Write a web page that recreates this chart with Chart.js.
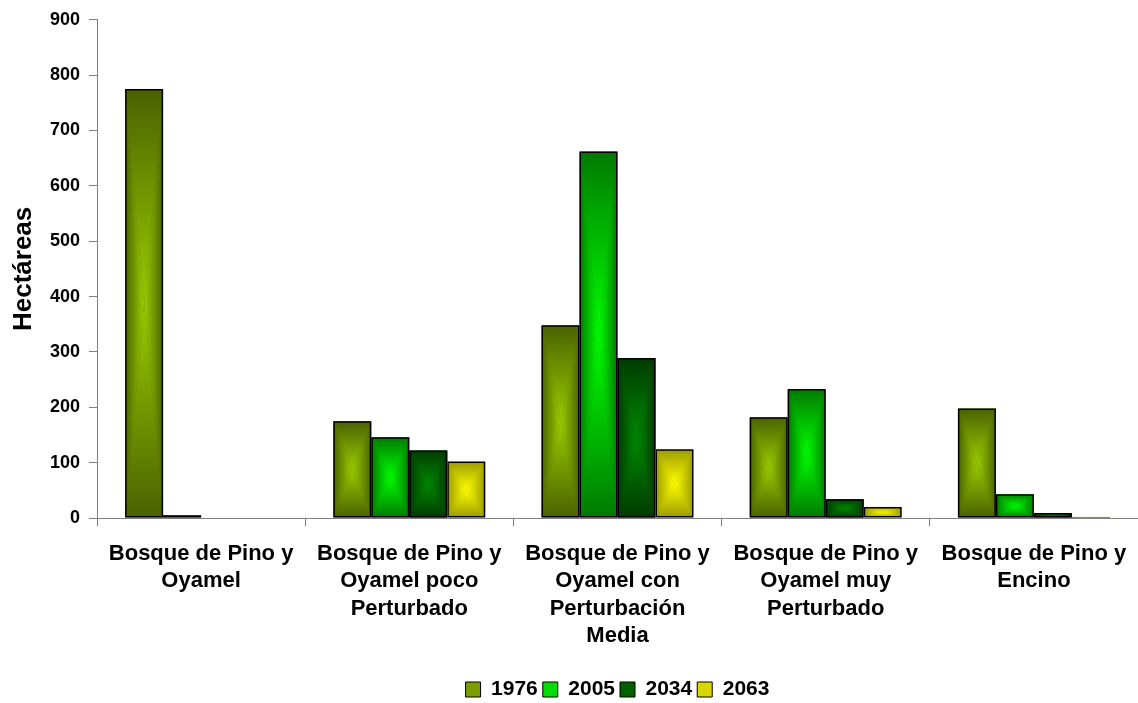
<!DOCTYPE html>
<html>
<head>
<meta charset="utf-8">
<script src="https://cdn.jsdelivr.net/npm/chart.js@4"></script>
<style>
  html, body { margin: 0; padding: 0; background: #fff; }
  #wrap { width: 1138px; height: 703px; }
</style>
</head>
<body>
<div id="wrap"><canvas id="chart" width="1138" height="703"></canvas></div>
<script>
// ---- DATA ----
const categories = [
  ['Bosque de Pino y', 'Oyamel'],
  ['Bosque de Pino y', 'Oyamel poco', 'Perturbado'],
  ['Bosque de Pino y', 'Oyamel con', 'Perturbación', 'Media'],
  ['Bosque de Pino y', 'Oyamel muy', 'Perturbado'],
  ['Bosque de Pino y', 'Encino']
];
const years = ['1976', '2005', '2034', '2063'];
const v1976 = [775, 175, 348, 182, 198];
const v2005 = [5, 146, 662, 233, 43];
const v2034 = [0, 122, 289, 34, 9];
const v2063 = [0, 102, 124, 20, 2];
const yTicks = [0, 100, 200, 300, 400, 500, 600, 700, 800, 900];

// ---- COLOURS ----
const edgeColors = ['#4a6200', '#007a00', '#003a00', '#9a9a00'];
const midColors  = ['#9acc00', '#00ff00', '#008a00', '#ffff00'];
const legendColors = ['#7c9e00', '#00dd00', '#006000', '#d8d800'];

const FONT = "'Liberation Sans', Arial, sans-serif";

// bars get a "from centre" rectangular gradient, drawn before the borders
const shadeBars = {
  id: 'shadeBars',
  beforeDatasetsDraw(chart) {
    const ctx = chart.ctx;
    chart.data.datasets.forEach((ds, i) => {
      const meta = chart.getDatasetMeta(i);
      if (meta.hidden) return;
      const edge = edgeColors[i], mid = midColors[i];
      meta.data.forEach(bar => {
        const { x, y, base, width } = bar.getProps(['x', 'y', 'base', 'width'], true);
        const l = x - width / 2, r = x + width / 2;
        const t = Math.min(y, base), b = Math.max(y, base);
        if (b - t < 0.5) return;
        const cx = x, cy = (t + b) / 2;
        ctx.save();
        ctx.fillStyle = edge;
        ctx.fillRect(l, t, r - l, b - t);
        const tri = (pts, x0, y0, x1, y1) => {
          const g = ctx.createLinearGradient(x0, y0, x1, y1);
          g.addColorStop(0, edge);
          g.addColorStop(1, mid);
          ctx.beginPath();
          ctx.moveTo(pts[0][0], pts[0][1]);
          ctx.lineTo(pts[1][0], pts[1][1]);
          ctx.lineTo(pts[2][0], pts[2][1]);
          ctx.closePath();
          ctx.fillStyle = g;
          ctx.fill();
        };
        tri([[l, t], [l, b], [cx, cy]], l, 0, cx, 0);
        tri([[r, t], [r, b], [cx, cy]], r, 0, cx, 0);
        tri([[l, t], [r, t], [cx, cy]], 0, t, 0, cy);
        tri([[l, b], [r, b], [cx, cy]], 0, b, 0, cy);
        ctx.restore();
      });
    });
  }
};

// legend is centred under the plot area and sits a bit lower
const shiftLegend = {
  id: 'shiftLegend',
  afterLayout(chart) {
    const lg = chart.legend;
    if (!lg) return;
    lg.left = chart.chartArea.left;
    lg.top += 7;
    lg.bottom += 7;
  }
};

function makeDataset(label, values) {
  return {
    label,
    data: values,
    backgroundColor: 'rgba(0,0,0,0)',
    borderColor: '#000',
    borderWidth: c => (c.raw ? 1.5 : 0),
    borderSkipped: false,
    categoryPercentage: 0.73,
    barPercentage: 1.0
  };
}

new Chart(document.getElementById('chart'), {
  type: 'bar',
  data: {
    labels: categories,
    datasets: [
      makeDataset(years[0], v1976),
      makeDataset(years[1], v2005),
      makeDataset(years[2], v2034),
      makeDataset(years[3], v2063)
    ]
  },
  plugins: [shadeBars, shiftLegend],
  options: {
    responsive: false,
    animation: false,
    layout: { padding: { top: 17, left: 0, right: 0, bottom: 0 } },
    plugins: {
      tooltip: { enabled: false },
      legend: {
        position: 'bottom',
        labels: {
          color: '#000',
          font: { family: FONT, size: 21, weight: 'bold', lineHeight: 1 },
          boxWidth: 15,
          boxHeight: 15,
          padding: 5,
          generateLabels(chart) {
            const items = Chart.defaults.plugins.legend.labels.generateLabels(chart);
            items.forEach((it, i) => {
              it.fillStyle = legendColors[i];
              it.strokeStyle = '#000';
              it.lineWidth = 1;
            });
            return items;
          }
        }
      }
    },
    scales: {
      x: {
        grid: { drawOnChartArea: false, offset: true, tickLength: 8, color: '#808080' },
        border: { color: '#808080', width: 1 },
        ticks: {
          color: '#000',
          maxRotation: 0,
          autoSkip: false,
          padding: 14,
          font: { family: FONT, size: 22, weight: 'bold', lineHeight: 1.25 }
        },
        afterFit(scale) {
          scale.height = 149;
          scale.paddingLeft = 0;
          scale.paddingRight = 0;
        }
      },
      y: {
        min: 0,
        max: 900,
        afterBuildTicks(scale) { scale.ticks = yTicks.map(v => ({ value: v })); },
        grid: { drawOnChartArea: false, tickLength: 8, color: '#808080' },
        border: { color: '#808080', width: 1 },
        ticks: {
          color: '#000',
          padding: 9,
          font: { family: FONT, size: 18, weight: 'bold' }
        },
        title: {
          display: true,
          text: 'Hectáreas',
          color: '#000',
          padding: { top: 8, bottom: 0 },
          font: { family: FONT, size: 26, weight: 'bold' }
        },
        afterFit(scale) { scale.width = 97; }
      }
    }
  }
});
</script>
</body>
</html>
